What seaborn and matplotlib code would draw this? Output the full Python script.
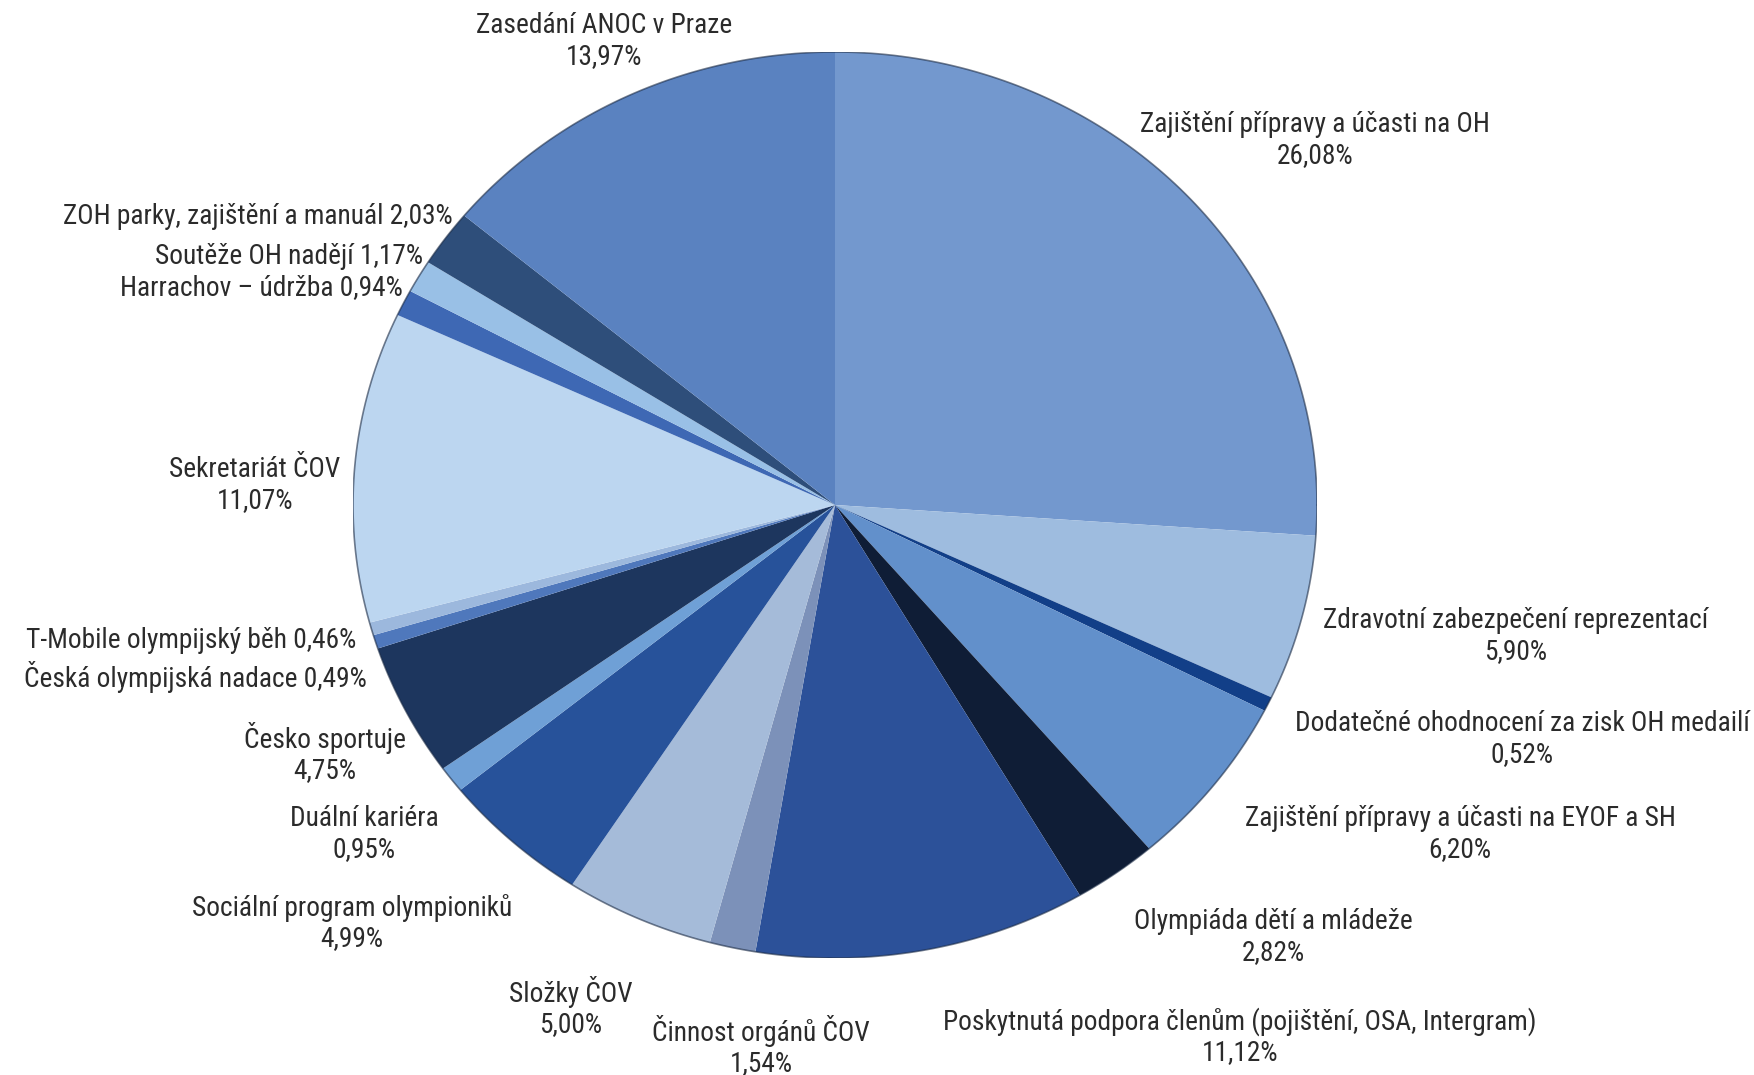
import numpy as np
import matplotlib
matplotlib.use("Agg")
import matplotlib.pyplot as plt
from matplotlib import font_manager as fm
import seaborn as sns

# slice order: clockwise from 12 o'clock
categories = [
    "Zajištění přípravy a účasti na OH",
    "Zdravotní zabezpečení reprezentací",
    "Dodatečné ohodnocení za zisk OH medailí",
    "Zajištění přípravy a účasti na EYOF a SH",
    "Olympiáda dětí a mládeže",
    "Poskytnutá podpora členům (pojištění, OSA, Intergram)",
    "Činnost orgánů ČOV",
    "Složky ČOV",
    "Sociální program olympioniků",
    "Duální kariéra",
    "Česko sportuje",
    "Česká olympijská nadace",
    "T-Mobile olympijský běh",
    "Sekretariát ČOV",
    "Harrachov – údržba",
    "Soutěže OH nadějí",
    "ZOH parky, zajištění a manuál",
    "Zasedání ANOC v Praze",
]
shares = [26.08, 5.90, 0.52, 6.20, 2.82, 11.12, 1.54, 5.00, 4.99, 0.95,
          4.75, 0.49, 0.46, 11.07, 0.94, 1.17, 2.03, 13.97]
slice_colors = ["#7398CE", "#9EBCDF", "#123F88", "#6290CB", "#0F1D36", "#2C5199",
                "#7C91B9", "#A5BBD9", "#27529A", "#6FA0D6", "#1D365E", "#4F78BC",
                "#9CB8DD", "#BCD6F0", "#3E68B4", "#99C0E6", "#2E4E7A", "#5A82C0"]

# label placement (pixels in a 1754x1075 canvas), alignment, one or two lines
label_pos = [(1315, 140, "center", True), (1516, 636, "center", True),
             (1522, 739, "center", True), (1460, 834, "center", True),
             (1273, 937, "center", True), (1240, 1037, "center", True),
             (761, 1046, "center", True), (571, 1007, "center", True),
             (352, 923, "center", True), (364, 834, "center", True),
             (325, 753, "center", True), (367, 677, "right", False),
             (356, 640, "right", False), (255, 485, "center", True),
             (403, 288, "right", False), (423, 256, "right", False),
             (453, 216, "right", False), (604, 41, "center", True)]

sns.set_theme(style="white")
plt.rcParams["font.family"] = ["DejaVu Sans"]


def narrow_font():
    # look for any installed condensed / narrow regular face
    good = []
    for f in fm.fontManager.ttflist:
        fn = f.fname.lower()
        if any(k in fn for k in ("bold", "italic", "oblique", "light", "thin", "black", "medium")):
            continue
        if "narrow" in fn or "condensed" in fn or f.stretch in ("condensed", "semi-condensed"):
            good.append(f)
    order = ["liberationsansnarrow", "robotocondensed", "dejavusanscondensed", "condensed"]
    for key in order:
        for f in good:
            if key in f.fname.lower().replace("-", "").replace("_", ""):
                return fm.FontProperties(fname=f.fname)
    if good:
        return fm.FontProperties(fname=good[0].fname)
    return fm.FontProperties(family=["Roboto", "DejaVu Sans"])


fp = narrow_font()

W, H = 1754, 1075
fig = plt.figure(figsize=(W / 100, H / 100), dpi=100)
fig.patch.set_facecolor("white")

# pick font size so the top-right label is as wide as in the source (~349 px)
probe = fig.text(0, 0, categories[0], fontproperties=fp, fontsize=20)
fig.canvas.draw()
fsize = 20 * 349 / probe.get_window_extent().width
probe.remove()

cx, cy, rx, ry = 835, 505, 482, 453
ax = fig.add_axes([(cx - rx) / W, 1 - (cy + ry) / H, 2 * rx / W, 2 * ry / H])
ax.pie(shares, colors=slice_colors, startangle=90, counterclock=False,
       radius=1, wedgeprops=dict(linewidth=0))
ax.set_aspect("auto")
ax.set_xlim(-1, 1)
ax.set_ylim(-1, 1)
ax.axis("off")

# thin darker rim like the source rendering
t = np.linspace(0, 2 * np.pi, 400)
ax.plot(np.cos(t), np.sin(t), color="#1a2a44", lw=1.2, alpha=0.6)

for name, val, (x, y, ha, two) in zip(categories, shares, label_pos):
    pct = f"{val:.2f}%".replace(".", ",")
    txt = f"{name}\n{pct}" if two else f"{name} {pct}"
    fig.text(x / W, 1 - y / H, txt, ha=ha, va="center", fontproperties=fp,
             fontsize=fsize, color="#2b2b2b", linespacing=1.15,
             multialignment="center")

fig.savefig("out.png", dpi=100, facecolor="white")
